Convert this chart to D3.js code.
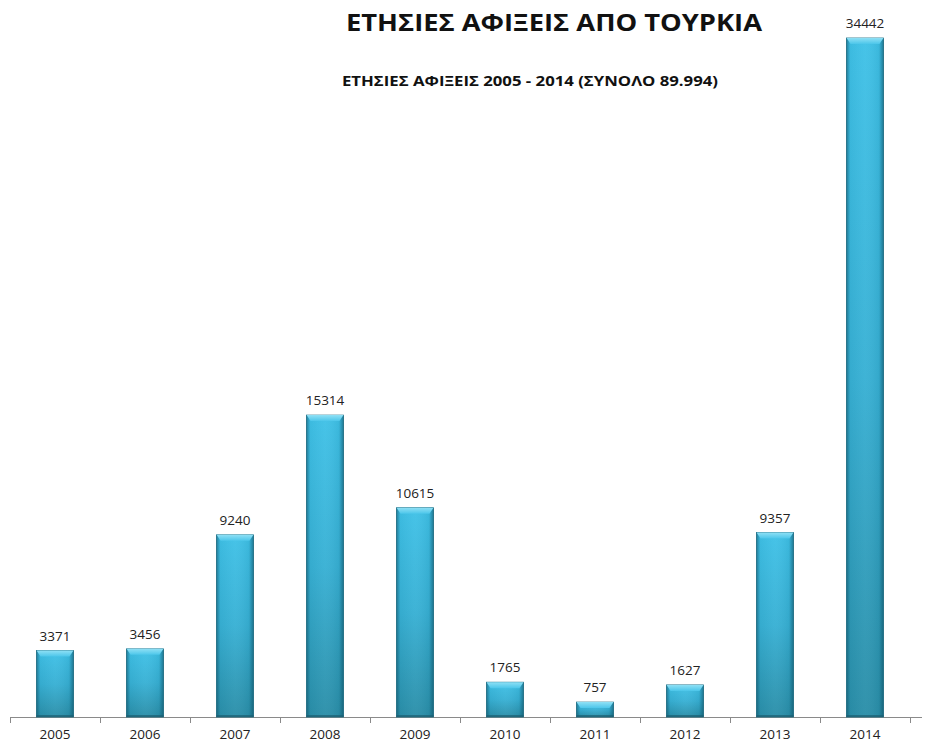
<!DOCTYPE html>
<html>
<head>
<meta charset="utf-8">
<script src="https://cdn.jsdelivr.net/npm/d3@7"></script>
<style>
  html, body { margin: 0; padding: 0; background: #fff; }
  svg { display: block; }
</style>
</head>
<body>
<svg id="chart" width="928" height="744"></svg>
<script>
const years = ["2005","2006","2007","2008","2009","2010","2011","2012","2013","2014"];
const arrivals = [3371, 3456, 9240, 15314, 10615, 1765, 757, 1627, 9357, 34442];
const titleText = "ΕΤΗΣΙΕΣ ΑΦΙΞΕΙΣ ΑΠΟ ΤΟΥΡΚΙΑ";
const subtitleText = "ΕΤΗΣΙΕΣ ΑΦΙΞΕΙΣ 2005 - 2014 (ΣΥΝΟΛΟ 89.994)";

const svg = d3.select("#chart");
const W = 928, H = 744;
const margin = {left: 10, right: 18, top: 38, bottom: 27};
const baseY = H - margin.bottom; // 717

const x = d3.scaleBand().domain(years).range([10, 910]).paddingInner(0.59).paddingOuter(0.295);
const y = d3.scaleLinear().domain([0, d3.max(arrivals)]).range([baseY, margin.top]);

const defs = svg.append("defs");
const gv = defs.append("linearGradient").attr("id","gv").attr("x1",0).attr("y1",0).attr("x2",0).attr("y2",1);
gv.append("stop").attr("offset","0%").attr("stop-color","#3fc1e7");
gv.append("stop").attr("offset","50%").attr("stop-color","#37b0d4");
gv.append("stop").attr("offset","100%").attr("stop-color","#2a8ea8");
const gh = defs.append("linearGradient").attr("id","gh").attr("x1",0).attr("y1",0).attr("x2",1).attr("y2",0);
gh.append("stop").attr("offset","0%").attr("stop-color","#0b4a5e").attr("stop-opacity",0.55);
gh.append("stop").attr("offset","10%").attr("stop-color","#0b4a5e").attr("stop-opacity",0.05);
gh.append("stop").attr("offset","50%").attr("stop-color","#ffffff").attr("stop-opacity",0.04);
gh.append("stop").attr("offset","88%").attr("stop-color","#0b4a5e").attr("stop-opacity",0.08);
gh.append("stop").attr("offset","100%").attr("stop-color","#0b4a5e").attr("stop-opacity",0.6);
const gt = defs.append("linearGradient").attr("id","gt").attr("x1",0).attr("y1",0).attr("x2",0).attr("y2",1);
gt.append("stop").attr("offset","0%").attr("stop-color","#8fe0f5");
gt.append("stop").attr("offset","100%").attr("stop-color","#4cc6ea");

// Axis
const axis = d3.axisBottom(x).tickSize(0).tickPadding(22);
const gAxis = svg.append("g").attr("transform", `translate(0,${baseY})`).call(axis);
gAxis.select(".domain").remove();
gAxis.selectAll("text").attr("font-family","'Open Sans', sans-serif").attr("font-size","13.5px").attr("fill","#222").attr("dy","0");
svg.append("line").attr("x1",10).attr("x2",922).attr("y1",baseY+0.5).attr("y2",baseY+0.5).attr("stroke","#8a8a8a").attr("stroke-width",1);
const tickX = years.map(d => x(d) - x.step()*x.paddingInner()/2).concat([x(years[years.length-1]) + x.bandwidth() + x.step()*x.paddingInner()/2]);
svg.append("g").selectAll("line").data(tickX).join("line")
  .attr("x1", d => Math.round(d)+0.5).attr("x2", d => Math.round(d)+0.5)
  .attr("y1", baseY).attr("y2", baseY+6).attr("stroke","#8a8a8a");

// Bars
const bars = svg.append("g").selectAll("g").data(years.map((yr,i)=>({yr, v: arrivals[i]}))).join("g");
bars.append("rect")
  .attr("x", d => x(d.yr)).attr("y", d => y(d.v))
  .attr("width", x.bandwidth()).attr("height", d => baseY - y(d.v))
  .attr("fill","url(#gv)").attr("stroke","#1d6f86").attr("stroke-width",0.8);
bars.append("rect")
  .attr("x", d => x(d.yr)).attr("y", d => y(d.v))
  .attr("width", x.bandwidth()).attr("height", d => baseY - y(d.v))
  .attr("fill","url(#gh)");
// top bevel
bars.append("path")
  .attr("d", d => {
    const x0 = x(d.yr), x1 = x0 + x.bandwidth(), t = y(d.v), b = 6;
    return `M${x0},${t}L${x1},${t}L${x1-4},${t+b}L${x0+4},${t+b}Z`;
  })
  .attr("fill","url(#gt)");
// bottom dark line
bars.append("rect")
  .attr("x", d => x(d.yr)).attr("y", baseY-2)
  .attr("width", x.bandwidth()).attr("height", 2).attr("fill","#1c5f72").attr("opacity",0.7);

// value labels
bars.append("text")
  .attr("x", d => x(d.yr) + x.bandwidth()/2)
  .attr("y", d => y(d.v) - 10)
  .attr("text-anchor","middle")
  .attr("font-family","'Open Sans', sans-serif").attr("font-size","13.5px").attr("fill","#222")
  .text(d => d.v);

// titles
svg.append("text").attr("x", 554).attr("y", 31).attr("text-anchor","middle")
  .attr("font-family","'Open Sans', sans-serif").attr("font-weight","bold").attr("font-size","24px")
  .attr("fill","#111").attr("textLength", 416).attr("lengthAdjust","spacingAndGlyphs").text(titleText);
svg.append("text").attr("x", 530).attr("y", 86).attr("text-anchor","middle")
  .attr("font-family","'Open Sans', sans-serif").attr("font-weight","bold").attr("font-size","15px")
  .attr("fill","#111").attr("textLength", 376).attr("lengthAdjust","spacingAndGlyphs").text(subtitleText);
</script>
</body>
</html>
